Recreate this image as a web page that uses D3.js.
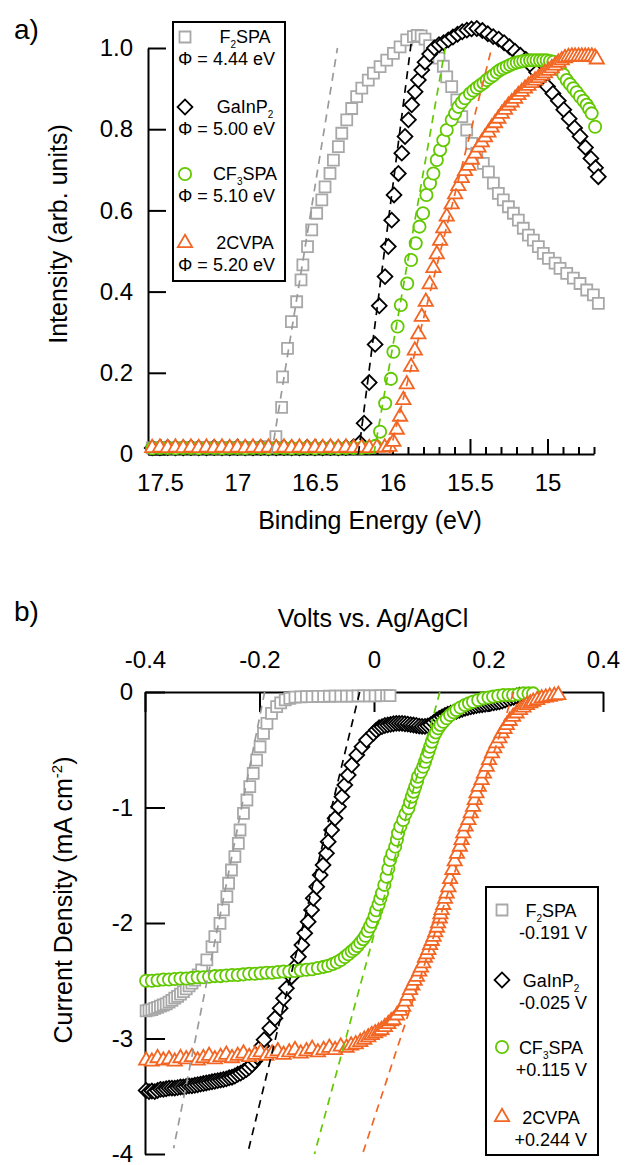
<!DOCTYPE html>
<html><head><meta charset="utf-8">
<script src="https://cdn.jsdelivr.net/npm/d3@7"></script>
<style>body{margin:0;background:#fff}svg{display:block}text{font-family:"Liberation Sans",Arial,Helvetica,sans-serif;fill:#000}</style>
</head><body><svg id="c" width="627" height="1165"></svg>
<script>
// ---------- DATA ----------
const seriesNames = ["F2SPA","GaInP2","CF3SPA","2CVPA"];
const workFunctions = ["Φ = 4.44 eV","Φ = 5.00 eV","Φ = 5.10 eV","Φ = 5.20 eV"];
const onsetPotentials = ["-0.191 V","-0.025 V","+0.115 V","+0.244 V"];
const upsMajorTicks = [17.5,17,16.5,16,15.5,15];
const upsMinorTicks = [17.4,17.3,17.2,17.1,16.9,16.8,16.7,16.6,16.4,16.3,16.2,16.1,15.9,15.8,15.7,15.6,15.4,15.3,15.2,15.1,14.9,14.8,14.7];
const upsYTicks = [0,0.2,0.4,0.6,0.8,1.0];
const jvXTicks = [-0.4,-0.2,0,0.2,0.4];
const jvYTicks = [0,-1,-2,-3,-4];

// a) UPS secondary electron cutoff: [binding energy eV, intensity]
const upsF2SPA = [[17.55,0.015],[17.50,0.016],[17.45,0.015],[17.40,0.015],[17.35,0.016],[17.30,0.015],[17.25,0.015],[17.20,0.016],[17.15,0.015],[17.10,0.015],[17.05,0.016],[17.00,0.015],[16.95,0.015],[16.90,0.016],[16.85,0.016],[16.80,0.018],
[16.752,0.043],[16.715,0.115],[16.709,0.190],[16.677,0.260],[16.652,0.326],[16.618,0.375],[16.590,0.429],[16.578,0.466],[16.548,0.511],[16.521,0.552],[16.489,0.593],[16.456,0.626],[16.435,0.658],[16.403,0.691],[16.381,0.724],[16.349,0.757],[16.327,0.790],[16.295,0.823],[16.263,0.851],[16.231,0.880],[16.198,0.901],[16.156,0.921],[16.123,0.938],[16.080,0.954],[16.037,0.970],[15.994,0.987],[15.951,1.003],[15.908,1.020],[15.865,1.028],[15.840,1.031],[15.815,1.030],[15.790,1.022],[15.760,1.006],[15.730,0.990],[15.700,0.975],[15.672,0.955],[15.650,0.929],[15.618,0.905],[15.585,0.872],[15.553,0.831],[15.521,0.798],[15.489,0.765],[15.456,0.741],[15.414,0.716],[15.381,0.695],[15.349,0.667],[15.317,0.642],[15.285,0.626],[15.252,0.609],[15.220,0.593],[15.188,0.576],[15.156,0.556],[15.123,0.539],[15.091,0.527],[15.059,0.511],[15.027,0.494],[14.994,0.482],[14.951,0.470],[14.919,0.457],[14.876,0.445],[14.833,0.433],[14.790,0.420],[14.747,0.404],[14.704,0.392],[14.672,0.371]];
const upsGaInP2 = [[17.55,0.015],[17.50,0.015],[17.45,0.016],[17.40,0.015],[17.35,0.015],[17.30,0.016],[17.25,0.015],[17.20,0.015],[17.15,0.016],[17.10,0.015],[17.05,0.015],[17.00,0.016],[16.95,0.015],[16.90,0.015],[16.85,0.016],[16.80,0.015],[16.75,0.015],[16.70,0.016],[16.65,0.015],[16.60,0.015],[16.55,0.016],[16.50,0.015],[16.45,0.015],[16.40,0.016],[16.35,0.015],[16.30,0.016],[16.25,0.018],
[16.210,0.027],[16.183,0.076],[16.150,0.176],[16.112,0.270],[16.085,0.365],[16.048,0.437],[16.027,0.511],[16.005,0.576],[15.990,0.638],[15.962,0.691],[15.940,0.741],[15.919,0.782],[15.897,0.823],[15.876,0.860],[15.854,0.892],[15.833,0.921],[15.811,0.946],[15.790,0.965],[15.760,0.985],[15.730,1.000],[15.700,1.008],[15.670,1.013],[15.640,1.020],[15.610,1.027],[15.580,1.034],[15.550,1.040],[15.520,1.044],[15.490,1.047],[15.456,1.048],[15.420,1.043],[15.385,1.035],[15.350,1.028],[15.315,1.022],[15.280,1.013],[15.245,1.003],[15.210,0.992],[15.175,0.982],[15.140,0.972],[15.105,0.957],[15.070,0.940],[15.035,0.922],[15.000,0.905],[14.965,0.888],[14.930,0.870],[14.895,0.848],[14.860,0.826],[14.825,0.803],[14.790,0.782],[14.755,0.755],[14.720,0.728],[14.690,0.705],[14.672,0.683]];
const upsCF3SPA = [[17.55,0.014],[17.50,0.015],[17.45,0.015],[17.40,0.014],[17.35,0.015],[17.30,0.015],[17.25,0.014],[17.20,0.015],[17.15,0.015],[17.10,0.014],[17.05,0.015],[17.00,0.015],[16.95,0.014],[16.90,0.015],[16.85,0.015],[16.80,0.014],[16.75,0.015],[16.70,0.015],[16.65,0.014],[16.60,0.015],[16.55,0.015],[16.50,0.014],[16.45,0.015],[16.40,0.015],[16.35,0.014],[16.30,0.015],[16.25,0.015],[16.20,0.015],[16.15,0.016],[16.11,0.020],
[16.080,0.055],[16.047,0.125],[16.010,0.185],[15.994,0.252],[15.967,0.314],[15.946,0.367],[15.905,0.420],[15.880,0.478],[15.850,0.519],[15.826,0.560],[15.803,0.593],[15.781,0.638],[15.758,0.667],[15.736,0.691],[15.714,0.724],[15.693,0.749],[15.672,0.773],[15.650,0.798],[15.618,0.823],[15.596,0.839],[15.575,0.855],[15.553,0.866],[15.532,0.876],[15.500,0.888],[15.478,0.895],[15.456,0.902],[15.435,0.908],[15.413,0.914],[15.392,0.921],[15.370,0.927],[15.349,0.933],[15.327,0.940],[15.306,0.946],[15.285,0.950],[15.263,0.954],[15.241,0.958],[15.220,0.962],[15.198,0.964],[15.177,0.966],[15.156,0.968],[15.134,0.969],[15.112,0.970],[15.091,0.970],[15.070,0.970],[15.048,0.970],[15.027,0.970],[15.005,0.970],[14.984,0.968],[14.962,0.966],[14.941,0.958],[14.919,0.946],[14.897,0.934],[14.876,0.921],[14.855,0.911],[14.833,0.901],[14.812,0.891],[14.790,0.880],[14.768,0.870],[14.747,0.860],[14.731,0.850],[14.715,0.839],[14.693,0.806]];
const ups2CVPA = [[17.55,0.015],[17.50,0.016],[17.45,0.015],[17.40,0.016],[17.35,0.015],[17.30,0.016],[17.25,0.015],[17.20,0.016],[17.15,0.015],[17.10,0.016],[17.05,0.015],[17.00,0.016],[16.95,0.015],[16.90,0.016],[16.85,0.015],[16.80,0.016],[16.75,0.015],[16.70,0.016],[16.65,0.015],[16.60,0.016],[16.55,0.015],[16.50,0.016],[16.45,0.015],[16.40,0.016],[16.35,0.015],[16.30,0.016],[16.25,0.015],[16.20,0.016],[16.15,0.015],[16.10,0.016],[16.05,0.016],[16.02,0.018],
[15.994,0.030],[15.972,0.060],[15.951,0.092],[15.930,0.133],[15.908,0.172],[15.880,0.215],[15.856,0.255],[15.833,0.295],[15.811,0.338],[15.785,0.375],[15.760,0.418],[15.736,0.458],[15.714,0.492],[15.693,0.525],[15.672,0.556],[15.650,0.585],[15.618,0.615],[15.596,0.640],[15.575,0.660],[15.553,0.680],[15.532,0.697],[15.510,0.710],[15.488,0.725],[15.466,0.740],[15.445,0.755],[15.424,0.768],[15.403,0.780],[15.381,0.792],[15.360,0.804],[15.338,0.815],[15.317,0.826],[15.295,0.838],[15.274,0.848],[15.252,0.858],[15.231,0.866],[15.209,0.875],[15.188,0.884],[15.166,0.892],[15.145,0.900],[15.123,0.907],[15.102,0.914],[15.080,0.920],[15.059,0.926],[15.037,0.932],[15.016,0.938],[14.994,0.944],[14.973,0.950],[14.951,0.957],[14.930,0.964],[14.908,0.970],[14.887,0.975],[14.865,0.978],[14.843,0.979],[14.822,0.979],[14.800,0.979],[14.779,0.979],[14.757,0.979],[14.736,0.979],[14.714,0.979],[14.693,0.977],[14.682,0.972]];
// linear cutoff extrapolations [E, I]
const upsFitF2SPA = [[16.78,0],[16.355,1.0]];
const upsFitGaInP2 = [[16.22,0],[15.88,1.01]];
const upsFitCF3SPA = [[16.12,0],[15.66,1.0]];
const upsFit2CVPA = [[16.02,0],[15.36,1.0]];

// b) current density vs potential: [V vs Ag/AgCl, mA cm-2]
const jvF2SPA = [[-0.398,-2.760],[-0.393,-2.755],[-0.388,-2.750],[-0.383,-2.740],[-0.378,-2.730],[-0.373,-2.720],[-0.368,-2.710],[-0.363,-2.700],[-0.358,-2.685],[-0.353,-2.670],[-0.348,-2.650],[-0.343,-2.635],[-0.338,-2.615],[-0.333,-2.595],[-0.328,-2.570],[-0.323,-2.545],[-0.318,-2.520],[-0.313,-2.494],[-0.307,-2.450],[-0.301,-2.407],[-0.292,-2.320],[-0.283,-2.205],[-0.278,-2.118],[-0.269,-2.003],[-0.263,-1.887],[-0.257,-1.772],[-0.254,-1.656],[-0.249,-1.541],[-0.243,-1.426],[-0.237,-1.310],[-0.234,-1.195],[-0.228,-1.050],[-0.222,-0.935],[-0.217,-0.820],[-0.211,-0.704],[-0.205,-0.589],[-0.199,-0.474],[-0.193,-0.358],[-0.187,-0.271],[-0.179,-0.185],[-0.170,-0.127],[-0.163,-0.095],[-0.155,-0.069],[-0.147,-0.055],[-0.138,-0.045],[-0.128,-0.042],[-0.118,-0.040],[-0.108,-0.040],[-0.098,-0.038],[-0.088,-0.038],[-0.078,-0.037],[-0.068,-0.036],[-0.058,-0.036],[-0.048,-0.035],[-0.038,-0.035],[-0.028,-0.034],[-0.018,-0.034],[-0.008,-0.033],[0.002,-0.033],[0.012,-0.032],[0.022,-0.032],[0.028,-0.032]];
const jvGaInP2 = [[-0.398,-3.450],[-0.393,-3.460],[-0.388,-3.455],[-0.383,-3.460],[-0.378,-3.450],[-0.373,-3.440],[-0.368,-3.440],[-0.363,-3.435],[-0.358,-3.430],[-0.353,-3.430],[-0.348,-3.430],[-0.343,-3.425],[-0.338,-3.420],[-0.333,-3.420],[-0.328,-3.415],[-0.323,-3.410],[-0.318,-3.410],[-0.313,-3.405],[-0.308,-3.400],[-0.303,-3.395],[-0.298,-3.390],[-0.293,-3.385],[-0.288,-3.380],[-0.283,-3.375],[-0.278,-3.370],[-0.273,-3.365],[-0.268,-3.360],[-0.263,-3.355],[-0.258,-3.350],[-0.253,-3.340],[-0.248,-3.335],[-0.243,-3.325],[-0.238,-3.310],[-0.233,-3.300],[-0.228,-3.285],[-0.223,-3.270],[-0.218,-3.250],[-0.213,-3.225],[-0.208,-3.195],[-0.204,-3.160],[-0.200,-3.115],[-0.196,-3.065],[-0.192,-3.010],[-0.182,-2.912],[-0.173,-2.825],[-0.164,-2.739],[-0.158,-2.652],[-0.153,-2.566],[-0.144,-2.465],[-0.138,-2.378],[-0.132,-2.292],[-0.126,-2.190],[-0.121,-2.089],[-0.115,-1.989],[-0.109,-1.887],[-0.106,-1.786],[-0.100,-1.686],[-0.094,-1.584],[-0.089,-1.498],[-0.083,-1.397],[-0.080,-1.296],[-0.074,-1.195],[-0.068,-1.094],[-0.062,-0.993],[-0.056,-0.906],[-0.051,-0.805],[-0.045,-0.719],[-0.039,-0.632],[-0.030,-0.545],[-0.021,-0.474],[-0.013,-0.416],[-0.001,-0.358],[0.004,-0.330],[0.009,-0.310],[0.014,-0.300],[0.019,-0.290],[0.024,-0.285],[0.029,-0.280],[0.034,-0.275],[0.039,-0.272],[0.044,-0.272],[0.049,-0.272],[0.054,-0.275],[0.059,-0.278],[0.064,-0.282],[0.069,-0.286],[0.074,-0.290],[0.079,-0.295],[0.084,-0.298],[0.089,-0.298],[0.094,-0.293],[0.099,-0.283],[0.104,-0.265],[0.109,-0.245],[0.114,-0.228],[0.119,-0.215],[0.124,-0.203],[0.129,-0.193],[0.134,-0.184],[0.139,-0.176],[0.144,-0.167],[0.149,-0.158],[0.154,-0.150],[0.159,-0.142],[0.164,-0.135],[0.169,-0.128],[0.174,-0.123],[0.179,-0.118],[0.184,-0.114],[0.189,-0.110],[0.194,-0.106],[0.199,-0.102],[0.204,-0.098],[0.209,-0.094],[0.214,-0.090],[0.219,-0.085],[0.224,-0.078],[0.229,-0.070],[0.234,-0.060],[0.239,-0.052],[0.244,-0.045],[0.249,-0.035],[0.254,-0.028]];
const jvCF3SPA = [[-0.398,-2.500],[-0.388,-2.500],[-0.378,-2.495],[-0.368,-2.490],[-0.358,-2.490],[-0.348,-2.485],[-0.338,-2.480],[-0.328,-2.480],[-0.318,-2.475],[-0.308,-2.470],[-0.298,-2.470],[-0.288,-2.465],[-0.278,-2.460],[-0.268,-2.460],[-0.258,-2.455],[-0.248,-2.450],[-0.238,-2.450],[-0.228,-2.445],[-0.218,-2.440],[-0.208,-2.440],[-0.198,-2.435],[-0.188,-2.430],[-0.178,-2.430],[-0.168,-2.425],[-0.158,-2.420],[-0.148,-2.420],[-0.138,-2.415],[-0.128,-2.410],[-0.118,-2.405],[-0.108,-2.400],[-0.098,-2.390],[-0.088,-2.380],[-0.080,-2.370],[-0.072,-2.355],[-0.065,-2.340],[-0.058,-2.320],[-0.051,-2.295],[-0.045,-2.270],[-0.039,-2.245],[-0.034,-2.225],[-0.029,-2.200],[-0.024,-2.170],[-0.019,-2.140],[-0.015,-2.110],[-0.011,-2.070],[-0.007,-2.030],[-0.003,-1.990],[0.001,-1.940],[0.004,-1.890],[0.008,-1.840],[0.011,-1.790],[0.014,-1.743],[0.018,-1.670],[0.022,-1.599],[0.025,-1.530],[0.028,-1.455],[0.032,-1.400],[0.037,-1.339],[0.040,-1.280],[0.042,-1.223],[0.046,-1.165],[0.051,-1.108],[0.055,-1.055],[0.060,-1.007],[0.063,-0.955],[0.066,-0.906],[0.069,-0.863],[0.072,-0.820],[0.075,-0.776],[0.077,-0.733],[0.082,-0.690],[0.086,-0.647],[0.089,-0.604],[0.092,-0.560],[0.095,-0.517],[0.098,-0.474],[0.101,-0.430],[0.104,-0.387],[0.108,-0.350],[0.112,-0.315],[0.116,-0.285],[0.121,-0.257],[0.127,-0.228],[0.133,-0.199],[0.139,-0.176],[0.144,-0.156],[0.151,-0.134],[0.159,-0.113],[0.166,-0.098],[0.173,-0.084],[0.182,-0.069],[0.191,-0.055],[0.200,-0.047],[0.208,-0.040],[0.217,-0.033],[0.226,-0.026],[0.235,-0.026],[0.243,-0.026],[0.252,-0.020],[0.261,-0.012],[0.270,-0.012],[0.278,-0.012]];
const jv2CVPA = [[-0.398,-3.190],[-0.388,-3.200],[-0.378,-3.170],[-0.368,-3.190],[-0.358,-3.180],[-0.348,-3.200],[-0.338,-3.170],[-0.328,-3.180],[-0.318,-3.160],[-0.308,-3.190],[-0.298,-3.170],[-0.288,-3.150],[-0.278,-3.180],[-0.268,-3.160],[-0.258,-3.140],[-0.248,-3.170],[-0.238,-3.150],[-0.228,-3.130],[-0.218,-3.160],[-0.208,-3.140],[-0.198,-3.120],[-0.188,-3.150],[-0.178,-3.130],[-0.168,-3.110],[-0.158,-3.140],[-0.148,-3.120],[-0.138,-3.100],[-0.128,-3.130],[-0.118,-3.110],[-0.108,-3.090],[-0.098,-3.120],[-0.088,-3.100],[-0.078,-3.080],[-0.068,-3.100],[-0.058,-3.070],[-0.048,-3.080],[-0.040,-3.060],[-0.032,-3.050],[-0.024,-3.030],[-0.017,-3.010],[-0.010,-2.990],[-0.004,-2.970],[0.002,-2.955],[0.008,-2.940],[0.013,-2.926],[0.019,-2.900],[0.025,-2.875],[0.030,-2.850],[0.034,-2.840],[0.040,-2.800],[0.046,-2.760],[0.051,-2.725],[0.055,-2.680],[0.059,-2.630],[0.063,-2.580],[0.067,-2.540],[0.071,-2.500],[0.075,-2.465],[0.079,-2.420],[0.082,-2.385],[0.086,-2.349],[0.089,-2.300],[0.092,-2.270],[0.095,-2.234],[0.098,-2.190],[0.101,-2.155],[0.104,-2.119],[0.107,-2.080],[0.110,-2.040],[0.112,-2.003],[0.115,-1.960],[0.116,-1.925],[0.118,-1.887],[0.121,-1.843],[0.124,-1.790],[0.127,-1.745],[0.130,-1.690],[0.133,-1.620],[0.137,-1.540],[0.141,-1.465],[0.145,-1.400],[0.150,-1.339],[0.153,-1.281],[0.156,-1.223],[0.160,-1.165],[0.165,-1.108],[0.169,-1.050],[0.173,-0.993],[0.176,-0.935],[0.179,-0.877],[0.183,-0.820],[0.188,-0.762],[0.192,-0.705],[0.197,-0.647],[0.201,-0.589],[0.206,-0.531],[0.210,-0.487],[0.214,-0.444],[0.219,-0.400],[0.223,-0.358],[0.228,-0.320],[0.232,-0.286],[0.237,-0.250],[0.243,-0.214],[0.249,-0.185],[0.255,-0.156],[0.261,-0.134],[0.267,-0.113],[0.273,-0.098],[0.278,-0.084],[0.285,-0.069],[0.293,-0.055],[0.300,-0.047],[0.307,-0.040],[0.315,-0.033],[0.322,-0.026]];
// tangent extrapolations [V, J]
const jvFitF2SPA = [[-0.191,0],[-0.350,-3.95]];
const jvFitGaInP2 = [[-0.025,0],[-0.221,-4.0]];
const jvFitCF3SPA = [[0.115,0],[-0.104,-4.0]];
const jvFit2CVPA = [[0.244,0],[-0.020,-4.0]];

// ---------- DRAWING ----------
const svg = d3.select("#c");
const markerColors = ["#a8a8a8","#000000","#62c800","#f26522"];
const fitColors = ["#9a9a9a","#000000","#62c800","#f26522"];
const shapes = ["square","diamond","circle","triangle"];
const FONT = '"Liberation Sans",Arial,Helvetica,sans-serif';

function symbolPath(shape){
  if(shape==="square") return d3.symbol(d3.symbolSquare,121)();
  if(shape==="diamond") return d3.symbol(d3.symbolSquare,110)();
  if(shape==="circle") return d3.symbol(d3.symbolCircle,118)();
  return d3.symbol(d3.symbolTriangle,88)();
}
function markerTransform(shape,px,py){
  return `translate(${px},${py})` + (shape==="diamond" ? " rotate(45)" : "");
}
function drawSeries(g, data, x, y, i){
  g.append("g").selectAll("path").data(data).join("path")
    .attr("d", symbolPath(shapes[i]))
    .attr("transform", d => markerTransform(shapes[i], x(d[0]), y(d[1])))
    .attr("fill","#fff").attr("stroke",markerColors[i]).attr("stroke-width",1.8);
}
function drawFit(g, pts, x, y, i){
  g.append("path").datum(pts)
    .attr("d", d3.line().x(d=>x(d[0])).y(d=>y(d[1])))
    .attr("fill","none").attr("stroke",fitColors[i]).attr("stroke-width",1.7)
    .attr("stroke-dasharray","8,6");
}
function richName(t, name, subSize, subDy){
  const tokens=[]; let prevLetter=false;
  for(const ch of name){
    const sub = /\d/.test(ch) && prevLetter;
    if(tokens.length && tokens[tokens.length-1].sub===sub) tokens[tokens.length-1].s+=ch;
    else tokens.push({s:ch,sub});
    prevLetter = /[A-Za-z]/.test(ch);
  }
  let shifted=false;
  tokens.forEach(tk=>{
    const ts=t.append("tspan").text(tk.s);
    if(tk.sub){ts.attr("font-size",subSize).attr("dy",subDy); shifted=true;}
    else if(shifted){ts.attr("dy",-subDy); shifted=false;}
  });
}
function styleAxis(g, fs){
  g.attr("font-family",FONT).attr("font-size",fs);
  g.selectAll(".domain").attr("stroke","#000").attr("stroke-width",2);
  g.selectAll(".tick line").attr("stroke","#000").attr("stroke-width",2);
  g.selectAll(".tick text").attr("fill","#000");
}

// ===== Panel a =====
const xT = d3.scaleLinear().domain([17.577,14.70]).range([148,594]);
const yT = d3.scaleLinear().domain([0,1]).range([454,48]);
const gA = svg.append("g");

const gxMinor = gA.append("g").attr("transform","translate(0,454)")
  .call(d3.axisBottom(xT).tickValues(upsMinorTicks).tickSize(-7).tickSizeOuter(0).tickFormat(""));
styleAxis(gxMinor,24); gxMinor.select(".domain").remove();
const gxT = gA.append("g").attr("transform","translate(0,454)")
  .call(d3.axisBottom(xT).tickValues(upsMajorTicks).tickSize(-15).tickSizeOuter(0).tickPadding(20).tickFormat(d=>String(d)));
styleAxis(gxT,24);
const gyT = gA.append("g").attr("transform","translate(148,0)")
  .call(d3.axisLeft(yT).tickValues(upsYTicks).tickSize(-18).tickSizeOuter(0).tickPadding(15).tickFormat(d=>d===0?"0":d.toFixed(1)));
styleAxis(gyT,24);

const upsSeries = [upsF2SPA, upsGaInP2, upsCF3SPA, ups2CVPA];
const upsFits = [upsFitF2SPA, upsFitGaInP2, upsFitCF3SPA, upsFit2CVPA];
upsSeries.forEach((s,i)=>drawSeries(gA,s,xT,yT,i));
upsFits.forEach((s,i)=>drawFit(gA,s,xT,yT,i));

gA.append("text").attr("x",370).attr("y",529).attr("text-anchor","middle").attr("font-size",25).text("Binding Energy (eV)");
gA.append("text").attr("transform","translate(67,234) rotate(-90)").attr("text-anchor","middle").attr("font-size",25).text("Intensity (arb. units)");
gA.append("text").attr("x",14).attr("y",39).attr("font-size",28).text("a)");

// legend a
const legA = gA.append("g");
legA.append("rect").attr("x",173).attr("y",22).attr("width",112).attr("height",259)
  .attr("fill","#fff").attr("stroke","#000").attr("stroke-width",2);
const legAY = [37,107,174,243];
seriesNames.forEach((nm,i)=>{
  const cy = legAY[i];
  legA.append("path").attr("d",symbolPath(shapes[i])).attr("transform",markerTransform(shapes[i],185,cy))
    .attr("fill","#fff").attr("stroke",markerColors[i]).attr("stroke-width",1.8);
  const t = legA.append("text").attr("x",245).attr("y",cy+6).attr("text-anchor","middle").attr("font-size",18);
  richName(t,nm,10,5);
  legA.append("text").attr("x",178).attr("y",cy+28).attr("font-size",18).text(workFunctions[i]);
});

// ===== Panel b =====
const xB = d3.scaleLinear().domain([-0.4,0.4]).range([145,603]);
const yB = d3.scaleLinear().domain([0,-4]).range([692,1154]);
const gB = svg.append("g");
const gxB = gB.append("g").attr("transform","translate(0,692)")
  .call(d3.axisTop(xB).tickValues(jvXTicks).tickSize(-20).tickSizeOuter(0).tickPadding(24).tickFormat(d=>d===0?"0":d.toFixed(1)));
styleAxis(gxB,24);
const gyB = gB.append("g").attr("transform","translate(145,0)")
  .call(d3.axisLeft(yB).tickValues(jvYTicks).tickSize(-20).tickSizeOuter(0).tickPadding(12).tickFormat(d=>String(d)));
styleAxis(gyB,24);

const jvSeries = [jvF2SPA, jvGaInP2, jvCF3SPA, jv2CVPA];
const jvFits = [jvFitF2SPA, jvFitGaInP2, jvFitCF3SPA, jvFit2CVPA];
jvSeries.forEach((s,i)=>drawSeries(gB,s,xB,yB,i));
jvFits.forEach((s,i)=>drawFit(gB,s,xB,yB,i));

gB.append("text").attr("x",373).attr("y",627).attr("text-anchor","middle").attr("font-size",25).text("Volts vs. Ag/AgCl");
const yl = gB.append("text").attr("transform","translate(72,900) rotate(-90)").attr("text-anchor","middle").attr("font-size",25);
yl.append("tspan").text("Current Density (mA cm");
yl.append("tspan").attr("font-size",15).attr("dy",-10).text("-2");
yl.append("tspan").attr("dy",10).text(")");
gB.append("text").attr("x",14).attr("y",621).attr("font-size",28).text("b)");

// legend b
const legB = gB.append("g");
legB.append("rect").attr("x",486).attr("y",887).attr("width",112).attr("height",268)
  .attr("fill","#fff").attr("stroke","#000").attr("stroke-width",2);
const legBY = [910,980,1047,1117];
seriesNames.forEach((nm,i)=>{
  const cy = legBY[i];
  legB.append("path").attr("d",symbolPath(shapes[i])).attr("transform",markerTransform(shapes[i],502,cy))
    .attr("fill","#fff").attr("stroke",markerColors[i]).attr("stroke-width",1.8);
  const t = legB.append("text").attr("x",551).attr("y",cy+7).attr("text-anchor","middle").attr("font-size",18);
  richName(t,nm,10,5);
  legB.append("text").attr("x",587).attr("y",cy+29).attr("text-anchor","end").attr("font-size",18).text(onsetPotentials[i]);
});
</script></body></html>
